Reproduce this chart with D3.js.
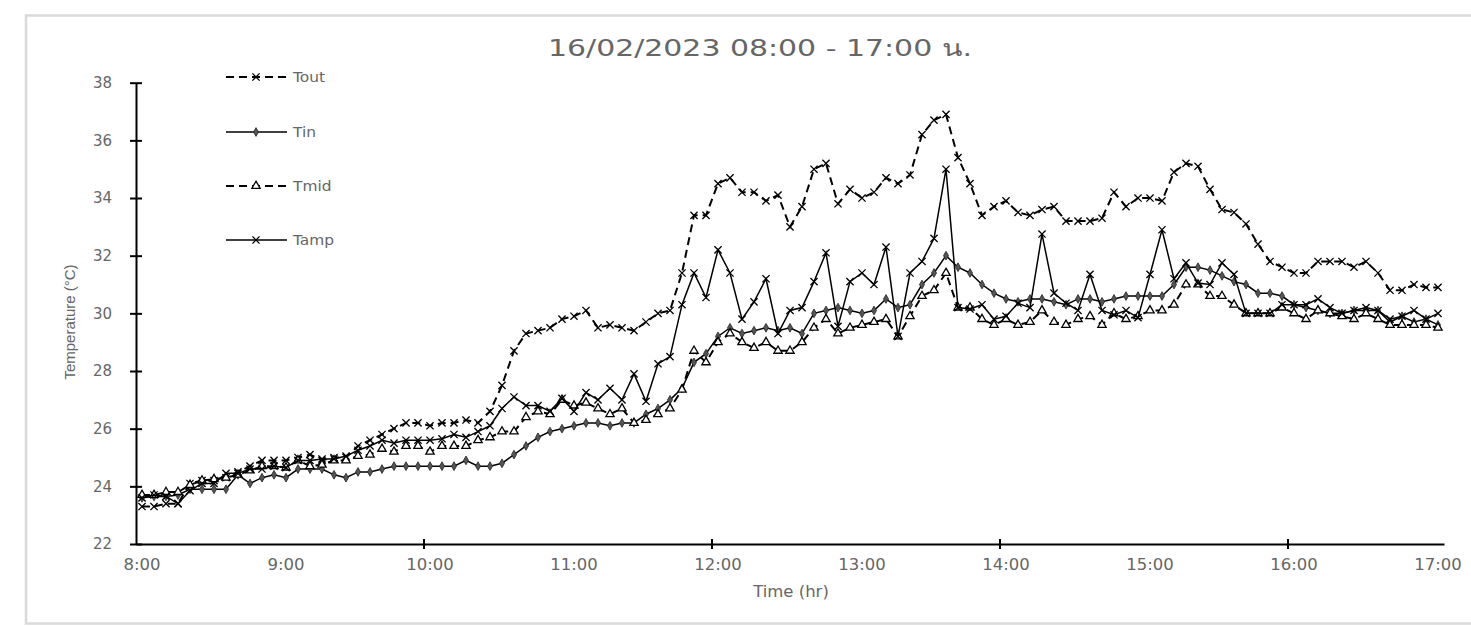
<!DOCTYPE html>
<html>
<head>
<meta charset="utf-8">
<script src="https://cdn.jsdelivr.net/npm/d3@7"></script>
<style>
  html, body { margin: 0; padding: 0; background: #fff; }
  svg { display: block; }
</style>
</head>
<body>
<div id="container"></div>
<script>
// --- Data: 5-minute readings, 08:00 - 17:00 ---
const tout = [
  23.3, 23.3, 23.4, 23.4, 24.1, 24.2, 24.2, 24.3, 24.5, 24.7,
  24.9, 24.9, 24.9, 25.0, 25.1, 24.9, 25.0, 25.0, 25.4, 25.6, 25.8, 26.0, 26.2, 26.2, 26.1, 26.2,
  26.2, 26.3, 26.2, 26.6, 27.5, 28.7, 29.3, 29.4, 29.5, 29.8, 29.9, 30.1, 29.5, 29.6, 29.5, 29.4, 29.7, 30.0, 30.1, 31.4,
  33.4, 33.4, 34.5, 34.7, 34.2, 34.2, 33.9, 34.1, 33.0, 33.7, 35.0, 35.2, 33.8, 34.3, 34.0, 34.2, 34.7, 34.5, 34.8, 36.2, 36.7, 36.9,
  35.4, 34.5, 33.4, 33.7, 33.9, 33.5, 33.4, 33.6, 33.7, 33.2,
  33.2, 33.2, 33.3, 34.2, 33.7, 34.0, 34.0, 33.9, 34.9, 35.2, 35.1, 34.3, 33.6, 33.5, 33.1, 32.4,
  31.8, 31.6, 31.4, 31.4, 31.8, 31.8, 31.8, 31.6, 31.8, 31.4, 30.8, 30.8, 31.0, 30.9, 30.9
];
const tin = [
  23.6, 23.65, 23.65, 23.7, 23.9, 23.9, 23.9, 23.9, 24.4, 24.1, 24.3, 24.4, 24.3,
  24.6, 24.6, 24.6, 24.4, 24.3, 24.5, 24.5, 24.6, 24.7, 24.7, 24.7, 24.7, 24.7,
  24.7, 24.9, 24.7, 24.7, 24.8, 25.1, 25.4, 25.7, 25.9, 26.0, 26.1, 26.2, 26.2,
  26.1, 26.2, 26.2, 26.5, 26.7, 27.0, 27.4, 28.3, 28.6, 29.2, 29.5, 29.3, 29.4,
  29.5, 29.4, 29.5, 29.3, 30.0, 30.1, 30.2, 30.1, 30.0, 30.1, 30.5, 30.2, 30.3,
  31.0, 31.4, 32.0, 31.6, 31.4, 31.0, 30.7, 30.5, 30.4, 30.5, 30.5, 30.4, 30.3,
  30.5, 30.5, 30.4, 30.5, 30.6, 30.6, 30.6, 30.6, 31.0, 31.6, 31.6, 31.5, 31.3, 31.1, 31.0, 30.7,
  30.7, 30.6, 30.3, 30.2, 30.1, 30.0, 30.0, 30.1, 30.1, 30.1, 29.7, 29.9, 29.7, 29.8, 29.6
];
const tmid = [
  23.7, 23.7, 23.8, 23.8, 24.05, 24.2, 24.25, 24.3, 24.4, 24.55, 24.7, 24.7, 24.65,
  24.9, 24.7, 24.75, 24.9, 24.9, 25.05, 25.1, 25.3, 25.2, 25.4, 25.4, 25.2, 25.4,
  25.4, 25.4, 25.6, 25.7, 25.9, 25.9, 26.4, 26.6, 26.5, 27.0, 26.8, 26.9, 26.7,
  26.5, 26.7, 26.2, 26.3, 26.5, 26.7, 27.35, 28.7, 28.3, 29.0, 29.3, 29.0, 28.8,
  29.0, 28.7, 28.7, 29.0, 29.5, 29.8, 29.3, 29.5, 29.6, 29.7, 29.8, 29.2, 29.9,
  30.6, 30.8, 31.4, 30.2, 30.2, 29.8, 29.6, 29.8, 29.6, 29.7, 30.1, 29.7, 29.6,
  29.8, 29.9, 29.6, 30.0, 29.8, 29.9, 30.1, 30.1, 30.3, 31.0, 31.0, 30.6, 30.6, 30.3, 30.0, 30.0,
  30.0, 30.2, 30.0, 29.8, 30.1, 30.0, 29.9, 29.8, 30.0, 29.8, 29.6, 29.6, 29.6, 29.6, 29.5
];
const tamp = [
  23.6, 23.7, 23.65, 23.4, 23.85, 24.1, 24.1, 24.45, 24.45, 24.6, 24.6, 24.7, 24.65,
  24.9, 24.9, 24.95, 24.95, 25.05, 25.25, 25.4, 25.6, 25.5, 25.6, 25.6, 25.6, 25.65,
  25.8, 25.7, 25.9, 26.1, 26.7, 27.1, 26.8, 26.8, 26.6, 27.05, 26.6, 27.25, 27.0,
  27.4, 27.0, 27.9, 26.95, 28.25, 28.5, 30.3, 31.4, 30.55, 32.2, 31.4, 29.8, 30.4,
  31.2, 29.3, 30.1, 30.2, 31.1, 32.1, 29.55, 31.1, 31.4, 31.0, 32.3, 29.2, 31.4,
  31.8, 32.6, 35.0, 30.2, 30.15, 30.3, 29.8, 29.9, 30.35, 30.2, 32.75, 30.7, 30.35,
  30.1, 31.35, 30.1, 29.95, 30.1, 29.85, 31.35, 32.9, 31.2, 31.75, 31.05, 31.0, 31.75, 31.35, 30.0, 30.0,
  30.0, 30.3, 30.3, 30.3, 30.5, 30.2, 30.0, 30.1, 30.2, 30.1, 29.8, 29.9, 30.1, 29.8, 30.0
];
const hourLabels = ["8:00", "9:00", "10:00", "11:00", "12:00", "13:00", "14:00", "15:00", "16:00", "17:00"];
const yTicks = [22, 24, 26, 28, 30, 32, 34, 36, 38];

const series = [
  { name: "Tout", values: tout, dash: "8,5", marker: "x" },
  { name: "Tin",  values: tin,  dash: null,  marker: "diamond" },
  { name: "Tmid", values: tmid, dash: "8,5", marker: "triangle" },
  { name: "Tamp", values: tamp, dash: null,  marker: "x" },
];

const width = 1471, height = 626;
const FONT = "'DejaVu Sans', Verdana, sans-serif";
const GREY = "#595959";
const STRETCH = "scale(1.1,1)";

const svg = d3.select("#container").append("svg")
  .attr("width", width).attr("height", height);

// chart frame
svg.append("rect")
  .attr("x", 26).attr("y", 15.5)
  .attr("width", width).attr("height", 608)
  .attr("fill", "#fff")
  .attr("stroke", "#d9d9d9").attr("stroke-width", 2.5);

// --- Scales (category axis, points between tick marks) ---
const n = tout.length;
const x = d3.scaleBand().domain(d3.range(n)).range([136, 1444]).paddingInner(0).paddingOuter(0);
const xc = (i) => x(i) + x.bandwidth() / 2;
const y = d3.scaleLinear().domain([22, 38]).range([544, 82.7]);

// --- Title ---
svg.append("text")
  .attr("x", 760).attr("y", 56)
  .attr("text-anchor", "middle")
  .attr("fill", "#666")
  .attr("textLength", 424).attr("lengthAdjust", "spacingAndGlyphs")
  .style("font-family", FONT).style("font-size", "23px")
  .text("16/02/2023 08:00 - 17:00 น.");

// --- Y axis ---
const yAxis = svg.append("g")
  .attr("transform", "translate(136,0)")
  .call(d3.axisLeft(y).tickValues(yTicks).tickSize(6).tickPadding(18).tickSizeOuter(0));
yAxis.select(".domain").attr("stroke", "#000").attr("stroke-width", 2);
yAxis.selectAll(".tick line").attr("x1", 6).attr("x2", -6).attr("stroke", "#000").attr("stroke-width", 2);
yAxis.selectAll(".tick text")
  .attr("fill", "#666")
  .style("font-family", FONT).style("font-size", "15px");

// --- X axis ---
const xAxis = svg.append("g")
  .attr("transform", "translate(0,544)")
  .call(d3.axisBottom(x)
    .tickValues(d3.range(0, n, 12))
    .tickFormat((i) => hourLabels[i / 12])
    .tickSize(0).tickPadding(15).tickSizeOuter(0));
xAxis.select(".domain").attr("stroke", "#000").attr("stroke-width", 2);
xAxis.selectAll(".tick text")
  .attr("fill", "#666")
  .attr("transform", STRETCH)
  .style("font-family", FONT).style("font-size", "15px");

// major tick marks every two hours, on category boundaries
xAxis.selectAll(".major").data(d3.range(24, n, 24)).join("line")
  .attr("class", "major")
  .attr("x1", (i) => x(i)).attr("x2", (i) => x(i))
  .attr("y1", -5).attr("y2", 5)
  .attr("stroke", "#000").attr("stroke-width", 2);

// --- Axis titles ---
svg.append("text")
  .attr("transform", "translate(75,322) rotate(-90)")
  .attr("text-anchor", "middle")
  .attr("fill", "#666")
  .style("font-family", "'Liberation Sans', Arial, sans-serif").style("font-size", "15px")
  .text("Temperature (°C)");

svg.append("text")
  .attr("transform", "translate(791,597) " + STRETCH)
  .attr("text-anchor", "middle")
  .attr("fill", "#666")
  .style("font-family", FONT).style("font-size", "15px")
  .text("Time (hr)");

// --- Markers ---
const xPath = "M-3.6,-3.6L3.6,3.6M-3.6,3.6L3.6,-3.6";
function drawMarker(sel, kind) {
  if (kind === "x") {
    sel.append("path").attr("d", xPath)
      .attr("fill", "none").attr("stroke", "#000").attr("stroke-width", 1.3);
  } else if (kind === "diamond") {
    sel.append("path").attr("d", d3.symbol(d3.symbolDiamond, 22)())
      .attr("fill", "#555").attr("stroke", "#222").attr("stroke-width", 0.8);
  } else {
    sel.append("path").attr("d", d3.symbol(d3.symbolTriangle, 30)())
      .attr("fill", "#fff").attr("stroke", "#000").attr("stroke-width", 1.3);
  }
}

// --- Series ---
const line = d3.line().x((d, i) => xc(i)).y((d) => y(d));
series.forEach((s) => {
  const g = svg.append("g");
  g.append("path")
    .datum(s.values)
    .attr("fill", "none")
    .attr("stroke", "#000")
    .attr("stroke-width", s.dash ? 2 : 1.5)
    .attr("stroke-dasharray", s.dash)
    .attr("d", line);
  g.selectAll(".m").data(s.values).join("g")
    .attr("class", "m")
    .attr("transform", (d, i) => `translate(${xc(i)},${y(d)})`)
    .each(function () { drawMarker(d3.select(this), s.marker); });
});

// --- Legend ---
const legendY = [77, 132, 186, 240];
series.forEach((s, k) => {
  const g = svg.append("g").attr("transform", `translate(0,${legendY[k]})`);
  g.append("line")
    .attr("x1", 226).attr("x2", 287)
    .attr("stroke", "#000")
    .attr("stroke-width", s.dash ? 2 : 1.5)
    .attr("stroke-dasharray", s.dash);
  const m = g.append("g").attr("transform", "translate(256,0)");
  drawMarker(m, s.marker);
  g.append("text")
    .attr("transform", "translate(293,5) " + STRETCH)
    .attr("fill", "#666")
    .style("font-family", FONT).style("font-size", "14px")
    .text(s.name);
});
</script>
</body>
</html>
